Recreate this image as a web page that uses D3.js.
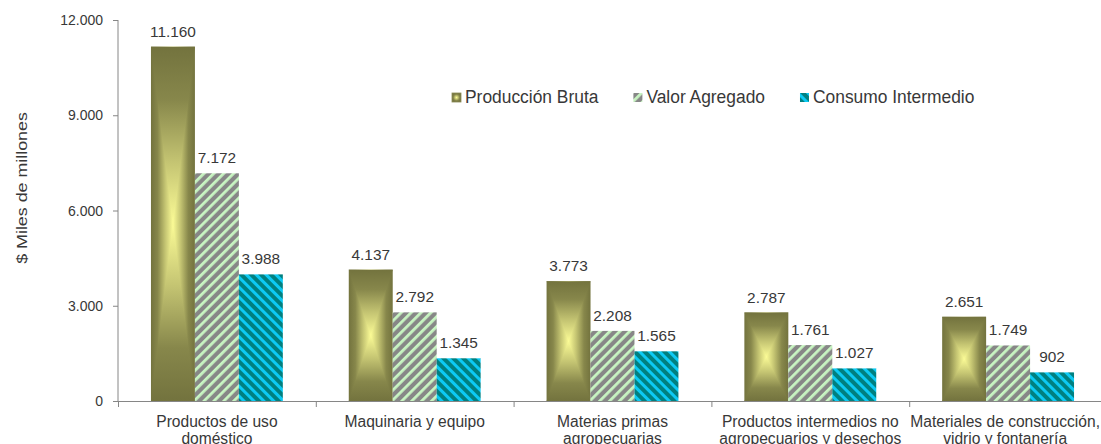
<!DOCTYPE html>
<html>
<head>
<meta charset="utf-8">
<script src="https://cdn.jsdelivr.net/npm/d3@7"></script>
<style>
  body { margin: 0; background: #fff; }
  svg { display: block; }
</style>
</head>
<body>
<div id="chart"></div>
<script>
// values (miles de millones de pesos)
var categories = [
  ["Productos de uso", "doméstico"],
  ["Maquinaria y equipo"],
  ["Materias primas", "agropecuarias"],
  ["Productos intermedios no", "agropecuarios y desechos"],
  ["Materiales de construcción,", "vidrio y fontanería"]
];
var seriesNames = ["Producción Bruta", "Valor Agregado", "Consumo Intermedio"];
var produccionBruta = [11160, 4137, 3773, 2787, 2651];
var valorAgregado = [7172, 2792, 2208, 1761, 1749];
var consumoIntermedio = [3988, 1345, 1565, 1027, 902];
var yTicks = [0, 3000, 6000, 9000, 12000];

var width = 1101, height = 444;
var margin = {top: 20, left: 118, bottom: 43};
var textColor = "#383838";
var axisColor = "#868686";
var font = "'Liberation Sans', Arial, sans-serif";

var fmt = d3.formatLocale({decimal: ",", thousands: ".", grouping: [3], currency: ["$", ""]}).format(",d");

var svg = d3.select("#chart").append("svg")
  .attr("width", width)
  .attr("height", height);

var defs = svg.append("defs");

// olive "from center" gradient: horizontal one for the whole bar, vertical ones for top / bottom wedges
var oliveStops = [[0, "#73733e"], [0.3, "#87874b"], [0.65, "#c4c472"], [1, "#fbfb96"]];
function oliveGradient(id, x2, y2, mirror) {
  var g = defs.append("linearGradient").attr("id", id)
    .attr("x1", 0).attr("y1", 0).attr("x2", x2).attr("y2", y2);
  var stops = oliveStops.map(function(s) { return mirror ? [1 - s[0], s[1]] : s; });
  stops.sort(function(a, b) { return a[0] - b[0]; });
  stops.forEach(function(s) {
    g.append("stop").attr("offset", s[0]).attr("stop-color", s[1]);
  });
  return g;
}
// horizontal: dark - light - dark
var hg = defs.append("linearGradient").attr("id", "oliveH").attr("x1", 0).attr("x2", 1).attr("y1", 0).attr("y2", 0);
oliveStops.forEach(function(s) { hg.append("stop").attr("offset", s[0] / 2).attr("stop-color", s[1]); });
oliveStops.slice().reverse().forEach(function(s) { hg.append("stop").attr("offset", 1 - s[0] / 2).attr("stop-color", s[1]); });
oliveGradient("oliveTop", 0, 1, false);
oliveGradient("oliveBottom", 0, 1, true);

// radial-ish box for the legend marker
var lg = defs.append("radialGradient").attr("id", "oliveBox");
oliveStops.slice().reverse().forEach(function(s) { lg.append("stop").attr("offset", 1 - s[0]).attr("stop-color", s[1]); });

function stripes(id, angle, bg, fg, w) {
  var p = defs.append("pattern").attr("id", id)
    .attr("patternUnits", "userSpaceOnUse")
    .attr("width", 7).attr("height", 7)
    .attr("patternTransform", "rotate(" + angle + ")");
  p.append("rect").attr("width", 7).attr("height", 7).attr("fill", bg);
  p.append("rect").attr("width", w).attr("height", 7).attr("fill", fg);
}
stripes("hatchGreen", 45, "#878787", "#c8f5c2", 2.8);
stripes("hatchCyan", -45, "#008080", "#0ccaf4", 3);

var seriesFill = ["url(#oliveH)", "url(#hatchGreen)", "url(#hatchCyan)"];
var legendFill = ["url(#oliveBox)", "url(#hatchGreen)", "url(#hatchCyan)"];

var x0 = d3.scaleBand()
  .domain(d3.range(categories.length))
  .range([margin.left, 1107])
  .padding(0);

var x1 = d3.scaleBand()
  .domain(d3.range(seriesNames.length))
  .range([x0.bandwidth() / 6, x0.bandwidth() * 5 / 6])
  .padding(0);

// 0 sits at y=401, 12.000 at y=20
var y = d3.scaleLinear()
  .domain([0, 12000])
  .range([401, margin.top]);

var data = categories.map(function(c, i) {
  return [produccionBruta[i], valorAgregado[i], consumoIntermedio[i]];
});

// bars
var groups = svg.append("g").selectAll("g")
  .data(data)
  .enter().append("g")
  .attr("transform", function(d, i) { return "translate(" + x0(i) + ",0)"; });

groups.each(function(vals) {
  var g = d3.select(this);
  vals.forEach(function(v, s) {
    var bx0 = x1(s), bx1 = x1(s) + x1.bandwidth();
    var by0 = y(v), by1 = y(0);
    if (s == 0) {
      var cx = (bx0 + bx1) / 2, cy = (by0 + by1) / 2;
      g.append("rect")
        .attr("x", bx0).attr("y", by0)
        .attr("width", bx1 - bx0).attr("height", by1 - by0)
        .attr("fill", "url(#oliveH)");
      g.append("polygon")
        .attr("points", [[bx0, by0], [bx1, by0], [cx, cy]].join(" "))
        .attr("fill", "url(#oliveTop)");
      g.append("polygon")
        .attr("points", [[bx0, by1], [bx1, by1], [cx, cy]].join(" "))
        .attr("fill", "url(#oliveBottom)");
    } else {
      g.append("rect")
        .attr("x", bx0).attr("y", by0)
        .attr("width", bx1 - bx0).attr("height", by1 - by0)
        .attr("fill", seriesFill[s]);
    }
    // value label
    var cxl = (bx0 + bx1) / 2;
    g.append("text")
      .attr("transform", "translate(" + cxl + "," + (by0 - 10) + ") scale(1.1,1)")
      .attr("text-anchor", "middle")
      .attr("fill", textColor)
      .style("font", "14px " + font)
      .text(fmt(v));
  });
});

// y axis
var yAxis = svg.append("g");
yAxis.append("line")
  .attr("x1", margin.left).attr("x2", margin.left)
  .attr("y1", y(12000)).attr("y2", y(0))
  .attr("stroke", axisColor);
yAxis.selectAll(".ytick")
  .data(yTicks)
  .enter().append("line")
  .attr("x1", margin.left - 5).attr("x2", margin.left)
  .attr("y1", function(d) { return y(d) + 0.5; })
  .attr("y2", function(d) { return y(d) + 0.5; })
  .attr("stroke", axisColor);
yAxis.selectAll(".ylabel")
  .data(yTicks)
  .enter().append("text")
  .attr("x", margin.left - 15)
  .attr("y", function(d) { return y(d) + 5; })
  .attr("text-anchor", "end")
  .attr("fill", textColor)
  .style("font", "14px " + font)
  .text(function(d) { return fmt(d); });

svg.append("text")
  .attr("transform", "translate(22,188) rotate(-90) scale(1.19,1)")
  .attr("text-anchor", "middle")
  .attr("dominant-baseline", "central")
  .attr("fill", textColor)
  .style("font", "15px " + font)
  .text("$ Miles de millones");

// x axis
var xAxis = svg.append("g");
xAxis.append("line")
  .attr("x1", margin.left).attr("x2", width)
  .attr("y1", y(0) + 0.5).attr("y2", y(0) + 0.5)
  .attr("stroke", axisColor);
xAxis.selectAll(".xtick")
  .data(d3.range(categories.length))
  .enter().append("line")
  .attr("x1", function(i) { return x0(i) + 0.5; })
  .attr("x2", function(i) { return x0(i) + 0.5; })
  .attr("y1", y(0)).attr("y2", y(0) + 6)
  .attr("stroke", axisColor);

categories.forEach(function(lines, i) {
  lines.forEach(function(line, k) {
    svg.append("text")
      .attr("transform", "translate(" + (x0(i) + x0.bandwidth() / 2 - (i == categories.length - 1 ? 3 : 0)) + "," + (427 + k * 17) + ") scale(1,1.05)")
      .attr("text-anchor", "middle")
      .attr("fill", textColor)
      .style("font", "15.6px " + font)
      .text(line);
  });
});

// legend
var legend = svg.append("g");
var lx = 452;
seriesNames.forEach(function(name, s) {
  legend.append("rect")
    .attr("x", lx).attr("y", 93)
    .attr("width", 9).attr("height", 9)
    .attr("fill", legendFill[s])
    .attr("stroke", s == 0 ? "#8a8a55" : "none")
    .attr("stroke-width", 0.8);
  var t = legend.append("text")
    .attr("transform", "translate(" + (lx + 13) + ",103) scale(1,1.05)")
    .attr("fill", textColor)
    .style("font", "17.4px " + font)
    .text(name);
  lx = lx + 13 + t.node().getComputedTextLength() + 35;
});
</script>
</body>
</html>
